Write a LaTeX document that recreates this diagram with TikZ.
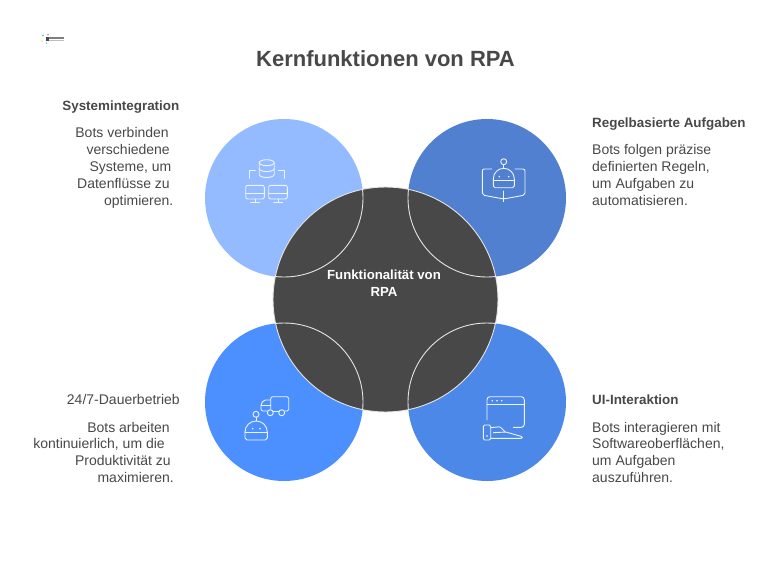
\documentclass[tikz,border=0pt]{standalone}
\usepackage{fontspec}
\setmainfont{Liberation Sans}
\definecolor{ink}{HTML}{484848}
\definecolor{paleblue}{HTML}{94BBFF}
\definecolor{steelblue}{HTML}{5080CF}
\definecolor{brightblue}{HTML}{4C90FF}
\definecolor{midblue}{HTML}{4C88E8}
\definecolor{rimgray}{HTML}{E4E4E4}
\tikzset{
  icon/.style={draw=white!85!paleblue,line width=0.9pt,line join=round,line cap=round},
  heading/.style={text=ink,font=\fontsize{13.4}{16.7}\selectfont\bfseries,inner sep=0pt},
  bodyleft/.style={text=ink,font=\fontsize{14}{16.7}\selectfont,inner sep=0pt,anchor=base east},
  bodyright/.style={text=ink,font=\fontsize{14}{16.7}\selectfont,inner sep=0pt,anchor=base west},
}
\begin{document}
\begin{tikzpicture}[x=1pt,y=-1pt]
  \useasboundingbox (0,0) rectangle (769,571);

  % logo
  \fill[cyan!60] (43,35.5) circle (1.2);
  \fill[magenta!50] (48,34.5) circle (1);
  \fill[yellow!70] (42,41) circle (1.2);
  \fill[cyan!50] (46.5,43) circle (1);
  \fill[ink] (45.5,37) rectangle (48.5,40.5);
  \fill[ink!70] (49,37) rectangle (64,39.3);
  \fill[ink!35] (49,40.3) rectangle (64,41.3);

  \node[text=ink,font=\fontsize{22}{26}\selectfont\bfseries,inner sep=0pt,anchor=base] (title) at (385.5,66.7)
    {Kernfunktionen von RPA};

  % the four circles
  \fill[paleblue] (284,198) circle (79);
  \fill[steelblue] (487,198) circle (79);
  \fill[brightblue] (284,402) circle (79);
  \fill[midblue] (487,402) circle (79);

  % centre
  \fill[ink] (385.5,299.5) circle (112.5);
  \begin{scope}
    \clip (385.5,299.5) circle (112.5);
    \draw[rimgray,line width=0.9pt] (284,198) circle (79);
    \draw[rimgray,line width=0.9pt] (487,198) circle (79);
    \draw[rimgray,line width=0.9pt] (284,402) circle (79);
    \draw[rimgray,line width=0.9pt] (487,402) circle (79);
  \end{scope}
  \draw[rimgray,line width=0.9pt] (385.5,299.5) circle (112.5);
  \node[text=white,font=\fontsize{13.2}{16.7}\selectfont\bfseries,align=center,inner sep=0pt] (centre) at (384,283.5)
    {Funktionalität von\\RPA};

  % top left
  \node[heading,anchor=base east] (sysHead) at (179.5,110.7) {Systemintegration};
  \node[bodyleft] (sysA) at (169,137.7) {Bots verbinden};
  \node[bodyleft] (sysB) at (170,154.5) {verschiedene};
  \node[bodyleft] (sysC) at (171.5,171.5) {Systeme, um};
  \node[bodyleft] (sysD) at (170,188.3) {Datenflüsse zu};
  \node[bodyleft] (sysE) at (173.5,205) {optimieren.};

  % top right
  \node[heading,anchor=base west] (ruleHead) at (592,127.7) {Regelbasierte Aufgaben};
  \node[bodyright] (ruleA) at (592,154.7) {Bots folgen präzise};
  \node[bodyright] (ruleB) at (592,171.5) {definierten Regeln,};
  \node[bodyright] (ruleC) at (592,188.3) {um Aufgaben zu};
  \node[bodyright] (ruleD) at (592,205) {automatisieren.};

  % bottom left
  \node[text=ink,font=\fontsize{14}{16.7}\selectfont,inner sep=0pt,anchor=base east] (dayHead) at (180,404) {24/7-Dauerbetrieb};
  \node[bodyleft] (dayA) at (170,432) {Bots arbeiten};
  \node[bodyleft] (dayB) at (165,448.7) {kontinuierlich, um die};
  \node[bodyleft] (dayC) at (171,465.4) {Produktivität zu};
  \node[bodyleft] (dayD) at (174,482) {maximieren.};

  % bottom right
  \node[heading,anchor=base west] (uiHead) at (592,404) {UI-Interaktion};
  \node[bodyright] (uiA) at (592,432) {Bots interagieren mit};
  \node[bodyright] (uiB) at (592,448.7) {Softwareoberflächen,};
  \node[bodyright] (uiC) at (592,465.4) {um Aufgaben};
  \node[bodyright] (uiD) at (592,482) {auszuführen.};

  % database icon
  \draw[icon] (266.7,162.7) ellipse (7.5 and 3);
  \draw[icon] (259.2,162.7) -- (259.2,174.5) arc (180:0:7.5 and 3) -- (274.2,162.7);
  \draw[icon] (259.2,168.6) arc (180:0:7.5 and 3);
  \draw[icon] (249.3,178.3) -- (249.3,170.7) -- (255.3,170.7);
  \draw[icon] (284,178.3) -- (284,170.7) -- (278.3,170.7);
  \draw[icon,rounded corners=2] (245.7,185.3) rectangle (264.3,199);
  \draw[icon] (245.7,193.3) -- (264.3,193.3);
  \draw[icon] (255,199) -- (255,202.3);
  \draw[icon] (250.7,202.3) -- (259.7,202.3);
  \draw[icon,rounded corners=2] (268.7,185.3) rectangle (287.3,199);
  \draw[icon] (268.7,193.3) -- (287.3,193.3);
  \draw[icon] (278,199) -- (278,202.3);
  \draw[icon] (273.7,202.3) -- (282.7,202.3);

  % robot and book icon
  \draw[icon] (503.7,161.7) circle (3);
  \draw[icon] (503.7,164.7) -- (503.7,168.3);
  \draw[icon] (493.3,186) -- (493.3,178.8) arc (180:360:10.5) -- (514.3,186) -- (512.6,187.7) -- (495,187.7) -- cycle;
  \draw[icon] (493.3,180) -- (514.3,180);
  \fill[white] (499.3,176.7) circle (0.8);
  \fill[white] (508.7,176.7) circle (0.8);
  \draw[icon,rounded corners=2] (491.7,169) -- (482.3,169) -- (482.3,195) -- (503.7,199) -- (525,195) -- (525,169) -- (515,169);
  \draw[icon] (503.7,191) -- (503.7,201.7);

  % truck and robot icon
  \draw[icon,rounded corners=1.5] (270.7,409) -- (270.7,396.7) -- (288.7,396.7) -- (288.7,411) -- (285,411);
  \draw[icon,rounded corners=1.5] (270.7,400) -- (264,400) -- (261,404) -- (261,411) -- (267.3,411);
  \draw[icon] (261,405) -- (270.7,405);
  \draw[icon] (273.3,411) -- (278.7,411);
  \draw[icon] (270.3,412.7) circle (3);
  \draw[icon] (281.7,412.7) circle (3);
  \draw[icon] (256,414.3) circle (3);
  \draw[icon] (256,417.3) -- (256,421);
  \draw[icon] (245,438) -- (245,432) arc (180:360:11.15 and 11) -- (267.3,438) -- (265.3,440) -- (247,440) -- cycle;
  \draw[icon] (245,432.7) -- (267.3,432.7);
  \fill[white] (252.7,428.7) circle (0.8);
  \fill[white] (260,428.7) circle (0.8);

  % window and hand icon
  \draw[icon,rounded corners=3] (487,420) -- (487,396.7) -- (524.3,396.7) -- (524.3,427.3) -- (513.3,427.3);
  \draw[icon] (487,404) -- (524.3,404);
  \fill[white] (492.3,400.7) circle (0.8);
  \fill[white] (497,400.7) circle (0.8);
  \fill[white] (501.7,400.7) circle (0.8);
  \draw[icon,rounded corners=1.5] (483.3,425) rectangle (490.7,440);
  \fill[white] (487,436) circle (0.8);
  \draw[icon,rounded corners=1] (490.7,427.7) -- (500,426.7) -- (505,431.7);
  \draw[icon,rounded corners=1] (493.3,432.7) -- (506,432) -- (522.3,436.7) -- (522.3,438.3) -- (490.7,438.3);
\end{tikzpicture}
\end{document}
